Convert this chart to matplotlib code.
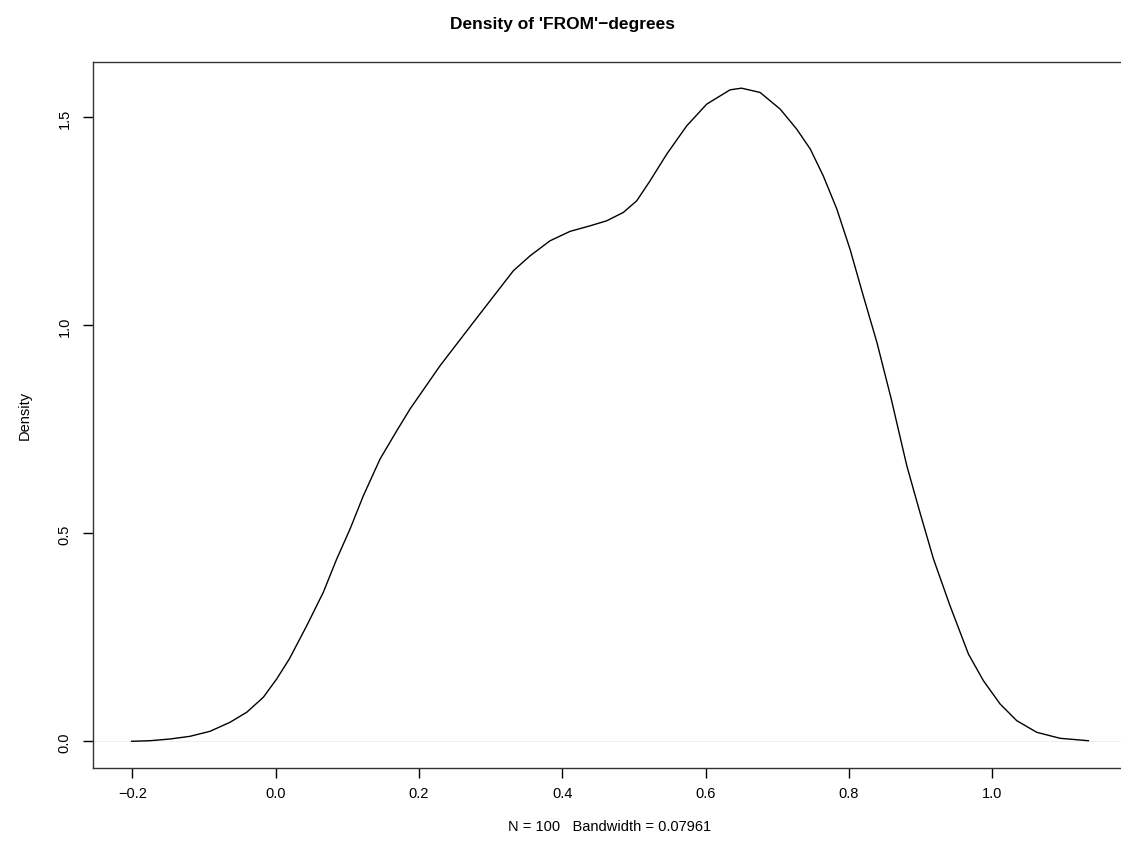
#Density curve of 'FROM'-degrees, redrawn in matplotlib

import numpy as np
import matplotlib.pyplot as plt

plt.rcParams['font.family'] = ['Liberation Sans', 'DejaVu Sans']

#Curve points
dens_x = [-0.201, -0.1754, -0.1475, -0.1196, -0.0917, -0.0638, -0.0405,
          -0.0173, 0.0014, 0.019, 0.0433, 0.0664, 0.0851, 0.1037, 0.1223,
          0.1456, 0.1689, 0.1874, 0.2293, 0.2758, 0.3316, 0.355,
          0.3828, 0.4107, 0.4387, 0.462, 0.4851, 0.5038, 0.5224, 0.5457,
          0.5736, 0.6015, 0.634, 0.650, 0.676, 0.704, 0.727, 0.746,
          0.764, 0.783, 0.8015, 0.820, 0.839, 0.859, 0.8807, 0.899,
          0.918, 0.941, 0.9667, 0.9876, 1.0109, 1.0342, 1.0621, 1.0946,
          1.1341]
dens_y = [0.0, 0.0014, 0.0055, 0.012, 0.024, 0.0457, 0.0697,
          0.1058, 0.150, 0.198, 0.2779, 0.3582, 0.4382, 0.5103, 0.5904,
          0.6786, 0.7466, 0.7988, 0.9029, 1.0072, 1.1313, 1.1673,
          1.2034, 1.226, 1.2394, 1.2515, 1.2716, 1.2995, 1.3476, 1.4118,
          1.4798, 1.532, 1.5663, 1.5704, 1.560, 1.520, 1.472, 1.424,
          1.360, 1.280, 1.183, 1.071, 0.959, 0.823, 0.6625, 0.5505,
          0.438, 0.326, 0.2099, 0.1457, 0.0897, 0.0495, 0.0216, 0.0072,
          0.0014]

x_ticks = [-0.2, 0.0, 0.2, 0.4, 0.6, 0.8, 1.0]
x_labels = ['\u22120.2', '0.0', '0.2', '0.4', '0.6', '0.8', '1.0']
y_ticks = [0.0, 0.5, 1.0, 1.5]
y_labels = ['0.0', '0.5', '1.0', '1.5']

fig = plt.figure(figsize=(11.21, 8.54), dpi=100)
#right edge of the box runs past the picture, as in the original
ax = fig.add_axes([92.7/1121, 85.5/854, (1127-92.7)/1121, (768.5-62.7)/854])

ax.axhline(0, color='#eeeeee', lw=0.6, zorder=1)
ax.plot(dens_x, dens_y, color='black', lw=1.0, zorder=2,
        solid_joinstyle='round')

ax.set_xlim(-0.2554, 1.188)
ax.set_ylim(-0.063, 1.634)

ax.set_xticks(x_ticks)
ax.set_xticklabels(x_labels)
ax.set_yticks(y_ticks)
ax.set_yticklabels(y_labels, rotation=90, va='center')
ax.tick_params(axis='both', direction='out', length=7, width=1.0,
               labelsize=10.5, pad=6)
ax.tick_params(axis='y', pad=8)

for s in ax.spines.values():
    s.set_linewidth(1.0)
    s.set_color('#333333')

fig.text(0.5015, 1 - 25/854, "Density of 'FROM'\u2212degrees", ha='center',
         va='center', fontsize=12.5, fontweight='bold')
fig.text(610/1121, 1 - 827/854, 'N = 100   Bandwidth = 0.07961', ha='center',
         va='center', fontsize=10.5)
fig.text(25/1121, 1 - 415/854, 'Density', ha='center', va='center',
         rotation=90, fontsize=10.5)

plt.savefig('out.png', dpi=100)
